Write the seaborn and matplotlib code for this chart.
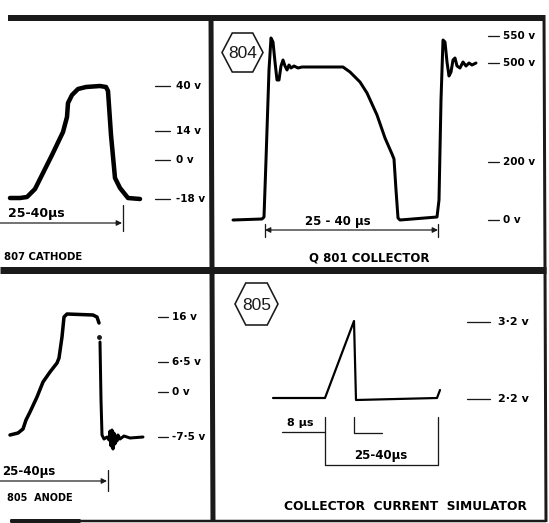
import matplotlib
matplotlib.use("Agg")
import matplotlib.pyplot as plt
from matplotlib.patches import Polygon
import seaborn as sns

# Oscillogram traces, in screen units of the sheet (x right, y down)
cathode_t = [10, 20, 27, 35, 43, 52, 63, 67, 68, 72, 78, 86, 100, 106, 108, 111, 115, 120, 128, 140]
cathode_v = [198, 198, 197, 189, 173, 155, 132, 117, 103, 95, 89, 87, 86, 87, 91, 135, 178, 188, 198, 199]
cathode_levels = ["40 v", "14 v", "0 v", "-18 v"]
cathode_level_y = [86, 131, 160, 199]

collector_t = [233, 262, 264, 266, 269, 271, 273, 275, 277, 279, 281, 283, 285, 287, 289, 291, 294,
               298, 302, 343, 350, 360, 367, 377, 385, 392, 394, 396, 398, 400, 437, 439, 441, 443,
               445, 447, 449, 451, 453, 455, 457, 460, 463, 466, 469, 472, 476]
collector_v = [220, 219, 217, 160, 70, 38, 42, 62, 80, 80, 66, 60, 66, 70, 65, 68, 66,
               68, 67, 67, 72, 82, 93, 115, 138, 154, 159, 190, 218, 220, 217, 200, 100, 40,
               42, 62, 76, 72, 60, 58, 66, 68, 62, 66, 63, 65, 63]
collector_levels = ["550 v", "500 v", "200 v", "0 v"]
collector_level_y = [36, 63, 162, 220]

anode_t = [10, 18, 23, 26, 30, 37, 43, 50, 57, 59, 62, 64, 67, 93, 97, 99]
anode_v = [435, 433, 429, 420, 412, 397, 382, 372, 363, 358, 337, 317, 314, 315, 317, 323]
anode_fall_t = [100, 101, 102, 104, 107, 109, 110, 111, 112, 113, 114, 115, 116, 117, 118, 120, 124, 130, 143]
anode_fall_v = [342, 400, 435, 439, 437, 440, 431, 446, 430, 449, 433, 444, 436, 441, 435, 439, 436, 438, 437]
anode_dot = (99, 337)
anode_levels = ["16 v", "6·5 v", "0 v", "-7·5 v"]
anode_level_y = [317, 362, 392, 437]

sim_t = [273, 325, 354, 356, 437, 440]
sim_v = [398, 398, 321, 400, 398, 390]
sim_levels = ["3·2 v", "2·2 v"]
sim_level_y = [322, 399]

BOLD = dict(family="DejaVu Sans", fontweight="bold", color="black")

sns.set_theme(style="white")
fig = plt.figure(figsize=(5.49, 5.23), dpi=100)
ax = fig.add_axes([0, 0, 1, 1])
ax.set_xlim(0, 549)
ax.set_ylim(523, 0)
ax.axis("off")

PX = 0.72  # points per pixel at 100 dpi

# sheet frame
ax.plot([8, 545], [18, 18], color="k", lw=6 * PX, solid_capstyle="butt")
ax.plot([0, 546], [269.5, 269.5], color="k", lw=7 * PX, solid_capstyle="butt")
ax.plot([211, 213], [15, 522], color="k", lw=5 * PX, solid_capstyle="butt")
ax.plot([544, 546], [15, 522], color="k", lw=3 * PX, solid_capstyle="butt")
ax.plot([10, 546], [520.5, 520.5], color="k", lw=2.5 * PX, solid_capstyle="butt")
ax.plot([10, 80], [520.5, 520.5], color="k", lw=5 * PX, solid_capstyle="butt")


def trace(t, v, width):
    sns.lineplot(x=t, y=v, sort=False, estimator=None, color="black",
                 lw=width * PX, ax=ax, legend=False)


def levels(names, ys, tick_x0, tick_x1, text_x, size=7.5):
    for name, y in zip(names, ys):
        ax.plot([tick_x0, tick_x1], [y, y], color="k", lw=1.3 * PX)
        ax.text(text_x, y, name, fontsize=size, va="center", ha="left", **BOLD)


def hexagon(cx, cy, w, h, label):
    e = w * 0.25
    pts = [(cx - w / 2, cy), (cx - w / 2 + e, cy - h / 2), (cx + w / 2 - e, cy - h / 2),
           (cx + w / 2, cy), (cx + w / 2 - e, cy + h / 2), (cx - w / 2 + e, cy + h / 2)]
    ax.add_patch(Polygon(pts, closed=True, fill=False, ec="k", lw=1.6 * PX))
    ax.text(cx, cy + 1, label, fontsize=12.5, family="Liberation Sans",
            ha="center", va="center", color="k")


def arrow(x0, x1, y, style):
    ax.annotate("", xy=(x1, y), xytext=(x0, y),
                arrowprops=dict(arrowstyle=style, color="k", lw=1.2 * PX,
                                mutation_scale=8, shrinkA=0, shrinkB=0))


# ---- 807 cathode
trace(cathode_t, cathode_v, 4.5)
levels(cathode_levels, cathode_level_y, 155, 170, 176)
ax.text(8, 213, "25-40µs", fontsize=9, va="center", ha="left", **BOLD)
arrow(0, 122, 223, "-|>")
ax.plot([123, 123], [205, 231], color="k", lw=1.3 * PX)
ax.text(4, 257, "807 CATHODE", fontsize=7.3, va="center", ha="left", **BOLD)

# ---- Q801 collector
trace(collector_t, collector_v, 3)
levels(collector_levels, collector_level_y, 488, 499, 503)
hexagon(242.5, 52.5, 41, 39, "804")
arrow(265, 438, 230, "<|-|>")
ax.plot([265, 265], [224, 237], color="k", lw=1.3 * PX)
ax.plot([438, 438], [224, 237], color="k", lw=1.3 * PX)
ax.text(338, 222, "25 - 40 µs", fontsize=8.5, va="center", ha="center", **BOLD)
ax.text(369, 258, "Q 801 COLLECTOR", fontsize=8.5, va="center", ha="center", **BOLD)

# ---- 805 anode
trace(anode_t, anode_v, 3.5)
trace(anode_fall_t, anode_fall_v, 3)
ax.plot(*anode_dot, "o", color="k", ms=2.5)
levels(anode_levels, anode_level_y, 158, 168, 172)
ax.text(2, 472, "25-40µs", fontsize=8.5, va="center", ha="left", **BOLD)
arrow(0, 107, 481, "-|>")
ax.plot([108, 108], [470, 491], color="k", lw=1.3 * PX)
ax.text(7, 498, "805  ANODE", fontsize=7, va="center", ha="left", **BOLD)

# ---- collector current simulator
trace(sim_t, sim_v, 2.2)
levels(sim_levels, sim_level_y, 467, 490, 498, size=8)
hexagon(256.5, 304, 43, 42, "805")
ax.text(300, 423, "8 µs", fontsize=8, va="center", ha="center", **BOLD)
ax.plot([282, 325], [432, 432], color="k", lw=1.3 * PX)
ax.plot([325, 325, 438, 438], [417, 465, 465, 417], color="k", lw=1.3 * PX)
ax.plot([354, 354, 382], [417, 433, 433], color="k", lw=1.3 * PX)
ax.text(381, 455, "25-40µs", fontsize=8.5, va="center", ha="center", **BOLD)
ax.text(405, 506, "COLLECTOR  CURRENT  SIMULATOR", fontsize=8.8, va="center",
        ha="center", **BOLD)

fig.savefig("out.png", dpi=100, facecolor="white")
